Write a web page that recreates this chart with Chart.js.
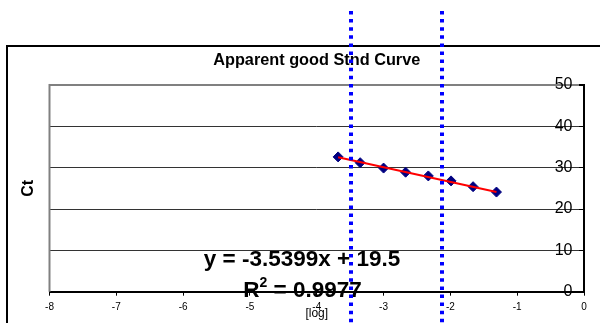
<!DOCTYPE html>
<html>
<head>
<meta charset="utf-8">
<title>Apparent good Stnd Curve</title>
<script src="https://cdn.jsdelivr.net/npm/chart.js@4.4.1/dist/chart.umd.min.js"></script>
<style>
  html, body { margin:0; width:600px; height:323px; overflow:hidden; background:#fff; }
  #frame { position:absolute; left:6px; top:45px; width:700px; height:400px; border:2px solid #000; }
  #c { position:absolute; left:0; top:0; }
</style>
</head>
<body>
<div id="frame"></div>
<canvas id="c" width="626" height="323"></canvas>
<script>
/* ---------- data ---------- */
const logConc  = [-3.68, -3.35, -3.00, -2.67, -2.33, -1.99, -1.66, -1.31];
const ctVals   = [32.6, 31.2, 29.9, 28.9, 28.0, 26.8, 25.4, 24.1];
const trendX   = [-3.68, -1.31];
const trendY   = [32.5, 24.1];
const cutoffX  = [-3.49, -2.12];          // blue dotted markers
const xRange   = [-8, 0];
const yRange   = [0, 50];
const eqText   = "y = -3.5399x + 19.5";
const r2Text   = "0.9977";

const FONT = 'Arial, "Liberation Sans", sans-serif';

/* ---------- extra drawing: plot frame, labels, cut-off lines ---------- */
const decor = {
  id: "decor",
  beforeDatasetsDraw(chart) {
    const {ctx, chartArea: a} = chart;
    ctx.save();
    ctx.strokeStyle = "#808080"; ctx.lineWidth = 2;
    ctx.beginPath(); ctx.moveTo(a.left, a.top - 1); ctx.lineTo(a.left, a.bottom); ctx.stroke();
    ctx.restore();
  },
  afterDatasetsDraw(chart) {
    const {ctx, chartArea: a} = chart;
    ctx.save();
    ctx.fillStyle = "#000";

    // y axis caption sits far left, away from the axis itself
    ctx.font = `bold 16px ${FONT}`;
    ctx.textAlign = "center"; ctx.textBaseline = "middle";
    ctx.translate(29, (a.top + a.bottom) / 2); ctx.rotate(-Math.PI / 2);
    ctx.fillText("Ct", 0, 0);
    ctx.setTransform(1, 0, 0, 1, 0, 0);

    // trendline equation
    ctx.textBaseline = "alphabetic";
    const big = `bold 22.5px ${FONT}`, sup = `bold 14px ${FONT}`;
    ctx.font = big;
    ctx.fillText(eqText, 302, 265.5);

    // R² line: R + superscript 2 + rest
    const wR = ctx.measureText("R").width, wRest = ctx.measureText(" = " + r2Text).width;
    ctx.font = sup; const w2 = ctx.measureText("2").width;
    let x0 = 302.5 - (wR + w2 + wRest) / 2;
    ctx.textAlign = "left";
    ctx.font = big; ctx.fillText("R", x0, 297);
    ctx.font = sup; ctx.fillText("2", x0 + wR, 287);
    ctx.font = big; ctx.fillText(" = " + r2Text, x0 + wR + w2, 297);
    ctx.restore();
  },
  afterDraw(chart) {
    const {ctx, scales: {x}} = chart;
    ctx.save();
    ctx.strokeStyle = "#0000ff"; ctx.lineWidth = 4; ctx.setLineDash([3.5, 4.6]);
    cutoffX.forEach(v => {
      const px = Math.round(x.getPixelForValue(v));
      ctx.beginPath(); ctx.moveTo(px, 11); ctx.lineTo(px, chart.height); ctx.stroke();
    });
    ctx.restore();
  }
};

new Chart(document.getElementById("c"), {
  type: "scatter",
  data: {
    datasets: [
      {
        label: "trend",
        data: trendX.map((v, i) => ({x: v, y: trendY[i]})),
        showLine: true, borderColor: "#ff0000", borderWidth: 2,
        pointRadius: 0, order: 0
      },
      {
        label: "Ct",
        data: logConc.map((v, i) => ({x: v, y: ctVals[i]})),
        pointStyle: "rectRot", pointRadius: 5,
        backgroundColor: "#000080", borderColor: "#000080", borderWidth: 1,
        order: 1
      }
    ]
  },
  options: {
    responsive: false, animation: false, devicePixelRatio: 1,
    layout: {padding: {left: 49.5, right: 42, top: 0, bottom: 0}},
    plugins: {
      legend: {display: false}, tooltip: {enabled: false},
      title: {
        display: true, text: "Apparent good Stnd Curve", color: "#000",
        font: {family: FONT, size: 16.3, weight: "bold"},
        padding: {top: 51.2, bottom: 14.2}
      }
    },
    scales: {
      x: {
        type: "linear", position: "bottom", min: xRange[0], max: xRange[1],
        ticks: {stepSize: 1, color: "#000", font: {family: FONT, size: 10}, padding: 6},
        grid: {drawOnChartArea: false, tickLength: 4, color: "#000"},
        border: {color: "#000", width: 2},
        title: {display: true, text: "[log]", color: "#000",
                font: {family: FONT, size: 12}, padding: {top: 0, bottom: 2}},
        afterFit(s) { s.height = 31.3; }
      },
      y: {
        // axis crosses at x = 0, which is the right edge; labels sit inside
        type: "linear", position: "right", min: yRange[0], max: yRange[1],
        ticks: {stepSize: 10, color: "#000", font: {family: FONT, size: 16},
                mirror: true, padding: -11.5},
        grid: {
          color: c => c.tick && c.tick.value === yRange[1] ? "#808080" : "#333",
          lineWidth: c => c.tick && c.tick.value === yRange[1] ? 2 : 1,
          tickColor: "#000", tickLength: -5
        },
        border: {color: "#000", width: 2},
        afterFit(s) { s.width = 0; }
      }
    }
  },
  plugins: [decor]
});
</script>
</body>
</html>
